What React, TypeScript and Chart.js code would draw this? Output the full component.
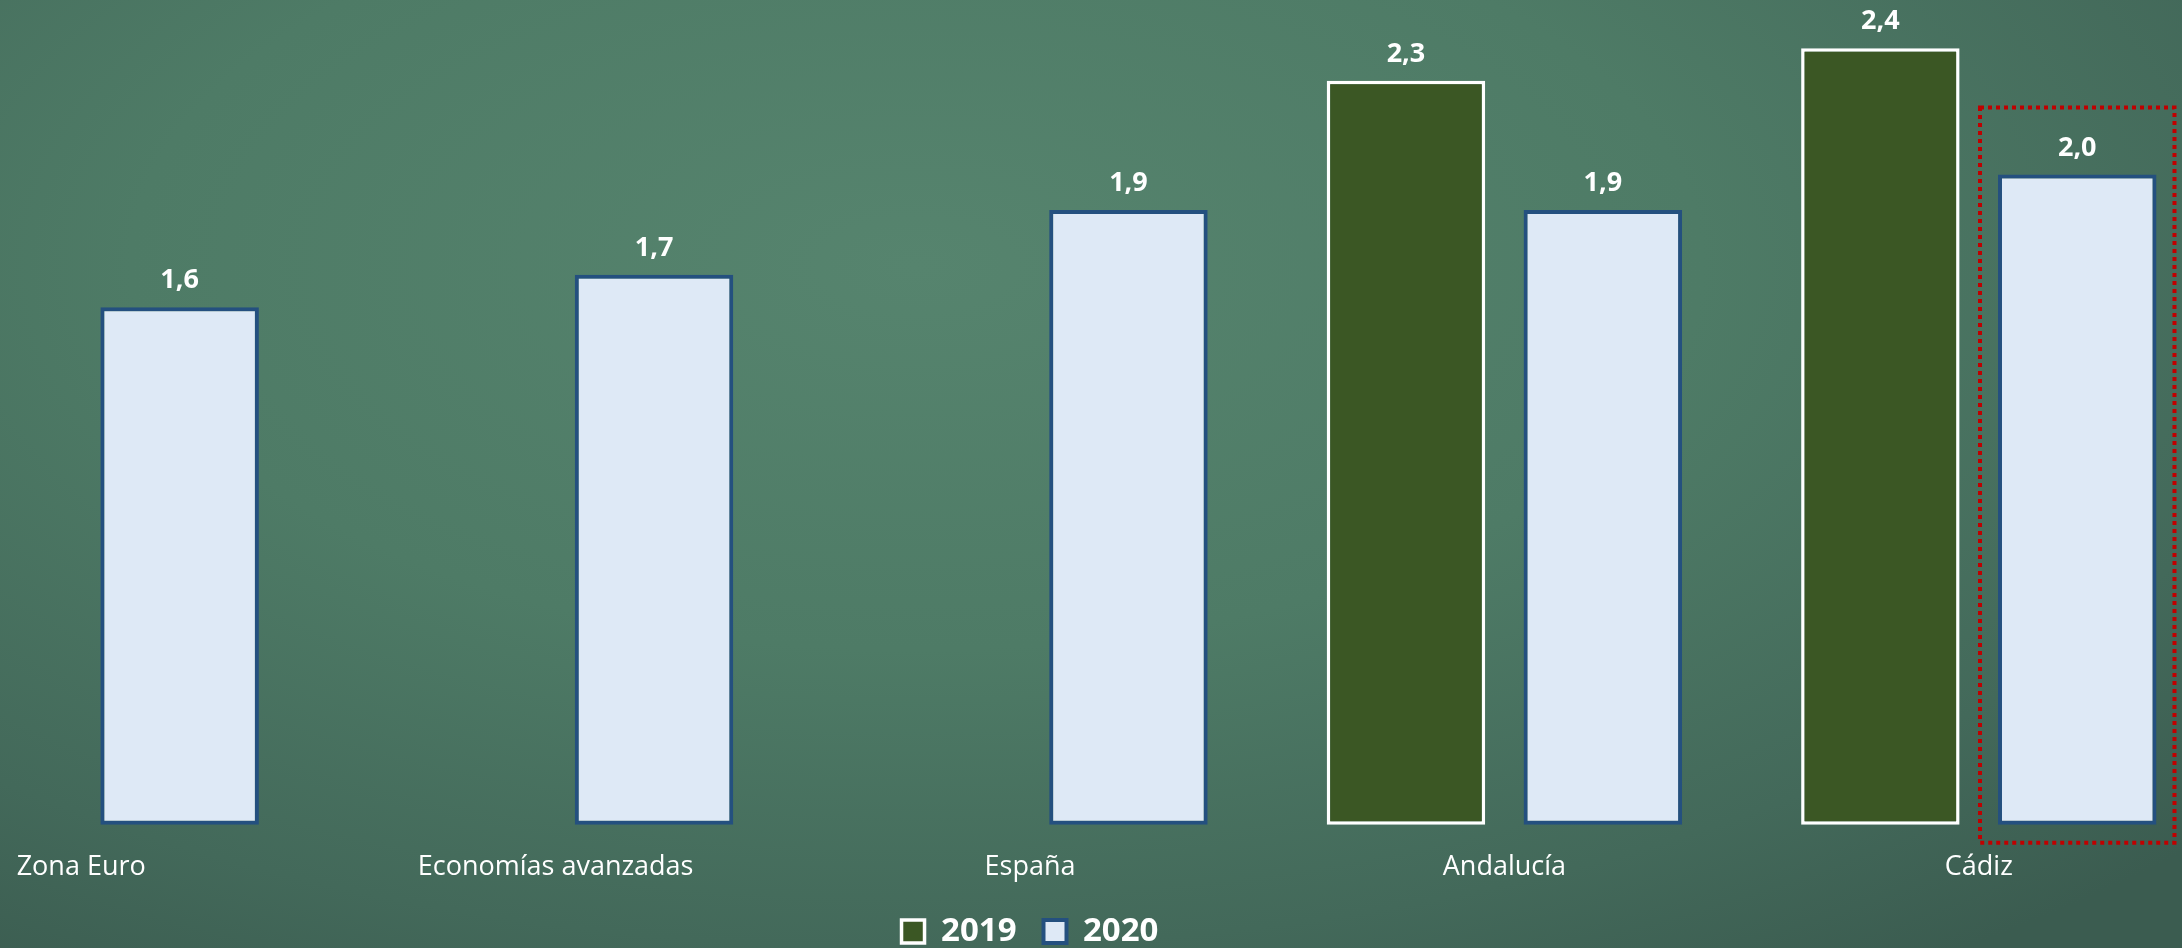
import React, { useEffect, useRef } from 'react';
import { Chart, registerables } from 'chart.js';

Chart.register(...registerables);

const categories = ['Zona Euro', 'Economías avanzadas', 'España', 'Andalucía', 'Cádiz'];
const seriesLabels = ['2019', '2020'];
const values2019 = [null, null, null, 2.3, 2.4];
const values2020 = [1.6, 1.7, 1.9, 1.9, 2.01];
const highlightCategory = 'Cádiz';

const FONT = "'Open Sans', 'DejaVu Sans', sans-serif";
const BAR_PCT = 0.805;

const fmt = (v: number) => v.toFixed(1).replace('.', ',');

export default function App() {
  const ref = useRef<HTMLCanvasElement | null>(null);

  useEffect(() => {
    if (!ref.current) return;

    const valueLabels = {
      id: 'valueLabels',
      afterDatasetsDraw(chart: any) {
        const ctx = chart.ctx;
        ctx.save();
        ctx.fillStyle = '#ffffff';
        ctx.font = `bold 27px ${FONT}`;
        ctx.textAlign = 'center';
        ctx.textBaseline = 'alphabetic';
        chart.data.datasets.forEach((ds: any, di: number) => {
          const meta = chart.getDatasetMeta(di);
          meta.data.forEach((el: any, i: number) => {
            const v = ds.data[i];
            if (v === null || v === undefined) return;
            ctx.fillText(fmt(v), el.x, el.y - 19);
          });
        });
        ctx.restore();
      },
    };

    const highlight = {
      id: 'highlight',
      afterDatasetsDraw(chart: any) {
        const idx = categories.indexOf(highlightCategory);
        const meta = chart.getDatasetMeta(1);
        const el: any = meta.data[idx];
        if (!el) return;
        const ctx = chart.ctx;
        const half = el.width / 2 + 18;
        ctx.save();
        ctx.strokeStyle = '#C00000';
        ctx.lineWidth = 4;
        ctx.setLineDash([4, 4]);
        ctx.strokeRect(el.x - half, el.y - 67, half * 2, el.base + 18 - (el.y - 67));
        ctx.restore();
      },
    };

    const chart = new Chart(ref.current, {
      type: 'bar',
      data: {
        labels: categories,
        datasets: [
          {
            label: seriesLabels[0],
            data: values2019,
            backgroundColor: '#3B5724',
            borderColor: '#FFFFFF',
            borderWidth: 3.5,
            borderSkipped: false,
            categoryPercentage: 0.83,
            barPercentage: BAR_PCT,
          },
          {
            label: seriesLabels[1],
            data: values2020,
            backgroundColor: '#DEE9F6',
            borderColor: '#24507F',
            borderWidth: 4,
            borderSkipped: false,
            categoryPercentage: 0.83,
            barPercentage: BAR_PCT,
          },
        ],
      },
      options: {
        animation: false,
        responsive: true,
        maintainAspectRatio: false,
        layout: { padding: { top: 16, left: 0, right: 0, bottom: 0 } },
        plugins: {
          tooltip: { enabled: false },
          legend: {
            position: 'bottom',
            labels: {
              color: '#FFFFFF',
              font: { family: FONT, size: 33, weight: 'bold' },
              boxWidth: 23,
              boxHeight: 23,
              padding: 27,
            },
          },
        },
        scales: {
          x: {
            grid: { display: false, drawTicks: false },
            border: { display: false },
            ticks: {
              color: '#FFFFFF',
              font: { family: FONT, size: 27 },
              padding: 4.4,
              autoSkip: false,
              maxRotation: 0,
            },
          },
          y: {
            display: false,
            min: -0.068,
            max: 2.5,
          },
        },
      },
      plugins: [valueLabels, highlight],
    });

    return () => chart.destroy();
  }, []);

  return (
    <div
      style={{
        position: 'fixed',
        left: 0,
        top: 0,
        width: 2182,
        height: 948,
        overflow: 'hidden',
        background:
          'radial-gradient(ellipse 80% 90% at 42% 28%, #56846e 0%, #4e7b66 45%, #43695a 80%, #3b5c50 100%)',
      }}
    >
      <div style={{ position: 'absolute', left: -156, top: 0, width: 2372, height: 958 }}>
        <canvas ref={ref} />
      </div>
    </div>
  );
}
